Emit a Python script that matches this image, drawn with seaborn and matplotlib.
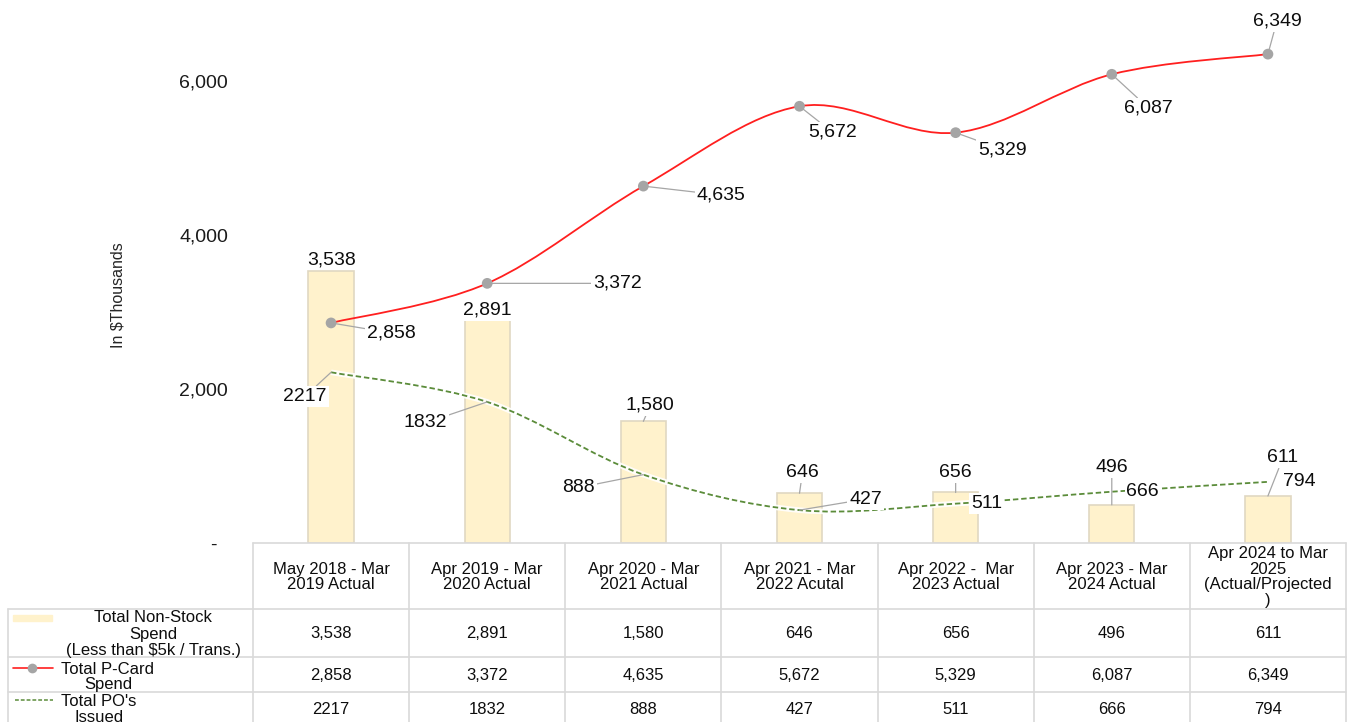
import numpy as np
import pandas as pd
import matplotlib
matplotlib.use("Agg")
import matplotlib.pyplot as plt
import seaborn as sns
from matplotlib.path import Path
from matplotlib.patches import PathPatch, Rectangle
from matplotlib.lines import Line2D

# ---------------- data ----------------
categories = ["May 2018 - Mar\n2019 Actual", "Apr 2019 - Mar\n2020 Actual",
              "Apr 2020 - Mar\n2021 Actual", "Apr 2021 - Mar\n2022 Acutal",
              "Apr 2022 -  Mar\n2023 Actual", "Apr 2023 - Mar\n2024 Actual",
              "Apr 2024 to Mar\n2025\n(Actual/Projected\n)"]
non_stock = [3538, 2891, 1580, 646, 656, 496, 611]
pcard = [2858, 3372, 4635, 5672, 5329, 6087, 6349]
po_issued = [2217, 1832, 888, 427, 511, 666, 794]
series_names = ["Total Non-Stock\nSpend\n(Less than $5k / Trans.)",
                "Total P-Card\nSpend", "Total PO's\nIssued"]
ytick_values = [0, 2000, 4000, 6000]
ytick_labels = ["-  ", "2,000", "4,000", "6,000"]
y_title = "In $Thousands"

# label offsets in pixels (dx, dy up) and whether a leader line is drawn
bar_offsets = [(1, 11, False), (0, 10, False), (7, 16, True), (3, 21, True),
               (0, 20, True), (0, 37, True), (15, 38, True)]
pcard_offsets = [(60, -10, True), (130, 0, True), (78, -9, True), (33, -26, True),
                 (47, -17, True), (37, -34, True), (9, 33, True)]
po_offsets = [(-26, -24, True), (-62, -21, True), (-65, -13, True), (66, 11, True),
              (31, 0, False), (31, 0, False), (31, 0, False)]

BAR_C = "#FFF2CC"
BAR_EDGE = "#E0D8C2"
RED = "#FF1F1F"
MARK = "#A5A5A5"
GREEN = "#5B8C3A"
GRID = "#D9D9D9"
TXT = "#0d0d0d"

sns.set_style("white")
plt.rcParams["font.family"] = ["Liberation Sans", "DejaVu Sans"]

W, H = 1351, 722
fig = plt.figure(figsize=(W / 100, H / 100), dpi=100)

def fx(px):
    return px / W

def fy(py):
    return 1 - py / H

ax_l, ax_r, ax_t, ax_b = 253, 1346, 4, 543
ax = fig.add_axes([fx(ax_l), fy(ax_b), fx(ax_r - ax_l), (ax_b - ax_t) / H])

n = len(categories)
xs = np.arange(n)
df = pd.DataFrame({"cat": categories, "non_stock": non_stock})
sns.barplot(data=df, x="cat", y="non_stock", order=categories, color=BAR_C,
            width=0.29, edgecolor=BAR_EDGE, linewidth=1.2, saturation=1, ax=ax, zorder=1)

def smooth_path(x, y):
    pts = np.column_stack([x, y]).astype(float)
    ext = np.vstack([pts[0], pts, pts[-1]])
    verts = [tuple(pts[0])]
    codes = [Path.MOVETO]
    for i in range(len(pts) - 1):
        p0, p1, p2, p3 = ext[i], ext[i + 1], ext[i + 2], ext[i + 3]
        c1 = p1 + (p2 - p0) / 6.0
        c2 = p2 - (p3 - p1) / 6.0
        verts += [tuple(c1), tuple(c2), tuple(p2)]
        codes += [Path.CURVE4] * 3
    return Path(verts, codes)

ax.add_patch(PathPatch(smooth_path(xs, pcard), fill=False, edgecolor=RED, lw=1.3, zorder=3))
ax.add_patch(PathPatch(smooth_path(xs, po_issued), fill=False, edgecolor="white", lw=4,
                       zorder=2.5, alpha=0.9))
ax.add_patch(PathPatch(smooth_path(xs, po_issued), fill=False, edgecolor=GREEN, lw=1.3,
                       linestyle=(0, (3, 1.6)), zorder=3))
sns.scatterplot(x=xs, y=pcard, s=60, color=MARK, edgecolor="none", ax=ax, zorder=4, legend=False)

ax.set_xlim(-0.5, n - 0.5)
ax.set_ylim(0, 7000)
ax.set_xticks([])
ax.set_xlabel("")
ax.set_ylabel("")
ax.set_yticks(ytick_values, ytick_labels)
ax.tick_params(axis="y", length=0, pad=18, labelsize=14, labelcolor="#1a1a1a")
for s in ax.spines.values():
    s.set_visible(False)

fig.text(fx(118), fy(295), y_title, rotation=90, ha="center", va="center",
         fontsize=11.5, color="#262626")

LBL = 14
bbox = dict(boxstyle="square,pad=0.1", fc="white", ec="none")
arrow = dict(arrowstyle="-", color="#A6A6A6", lw=0.9, shrinkA=0, shrinkB=0)

def label_series(vals, offs, fmt, z):
    for i, (v, (dx, dy, lead)) in enumerate(zip(vals, offs)):
        ax.annotate(fmt(v), xy=(i, v), xytext=(dx, dy), textcoords="offset pixels",
                    ha="center", va="center", fontsize=LBL, color=TXT,
                    bbox=bbox, arrowprops=arrow if lead else None, zorder=z,
                    annotation_clip=False)

label_series(non_stock, bar_offsets, lambda v: f"{v:,}", 6)
label_series(pcard, pcard_offsets, lambda v: f"{v:,}", 6)
label_series(po_issued, po_offsets, lambda v: f"{v}", 7)

# ---------------- data table ----------------
TB = 12
col_w = (ax_r - ax_l) / n
BASE = 5.5  # pixel shift from visual centre to baseline

def hline(y, x0, x1):
    fig.add_artist(Line2D([fx(x0), fx(x1)], [fy(y), fy(y)], color=GRID, lw=1.2))

def vline(x, y0, y1):
    fig.add_artist(Line2D([fx(x), fx(x)], [fy(y0), fy(y1)], color=GRID, lw=1.2))

def lines_text(cx, ys, text):
    for yy, line in zip(ys, text.split("\n")):
        fig.text(fx(cx), fy(yy + BASE), line, ha="center", va="baseline", fontsize=TB, color=TXT)

hline(543, ax_l, ax_r)
for y in [609, 657, 692]:
    hline(y, 8, ax_r)
for i in range(n + 1):
    vline(ax_l + i * col_w, 543, 722)
vline(8, 609, 722)

for i, c in enumerate(categories):
    cx = ax_l + (i + 0.5) * col_w
    k = len(c.split("\n"))
    ys = [576 + (j - (k - 1) / 2) * 15.7 for j in range(k)]
    lines_text(cx, ys, c)
    lines_text(cx, [633], f"{non_stock[i]:,}")
    lines_text(cx, [675], f"{pcard[i]:,}")
    lines_text(cx, [709], f"{po_issued[i]}")

# row headers with legend keys
fig.add_artist(Rectangle((fx(13), fy(621)), fx(39), 6 / H, color=BAR_C, transform=fig.transFigure))
lines_text(153, [617, 633, 649], series_names[0])
fig.add_artist(Line2D([fx(13), fx(53)], [fy(668), fy(668)], color=RED, lw=1.2))
fig.add_artist(Line2D([fx(32)], [fy(668)], marker="o", ms=7, color=MARK, mec="none"))
lines_text(108, [668, 683], series_names[1])
fig.add_artist(Line2D([fx(15), fx(53)], [fy(700), fy(700)], color=GREEN, lw=1.1,
                      linestyle=(0, (2.5, 1.3))))
lines_text(99, [700, 716], series_names[2])

fig.savefig("out.png", dpi=100, facecolor="white")
